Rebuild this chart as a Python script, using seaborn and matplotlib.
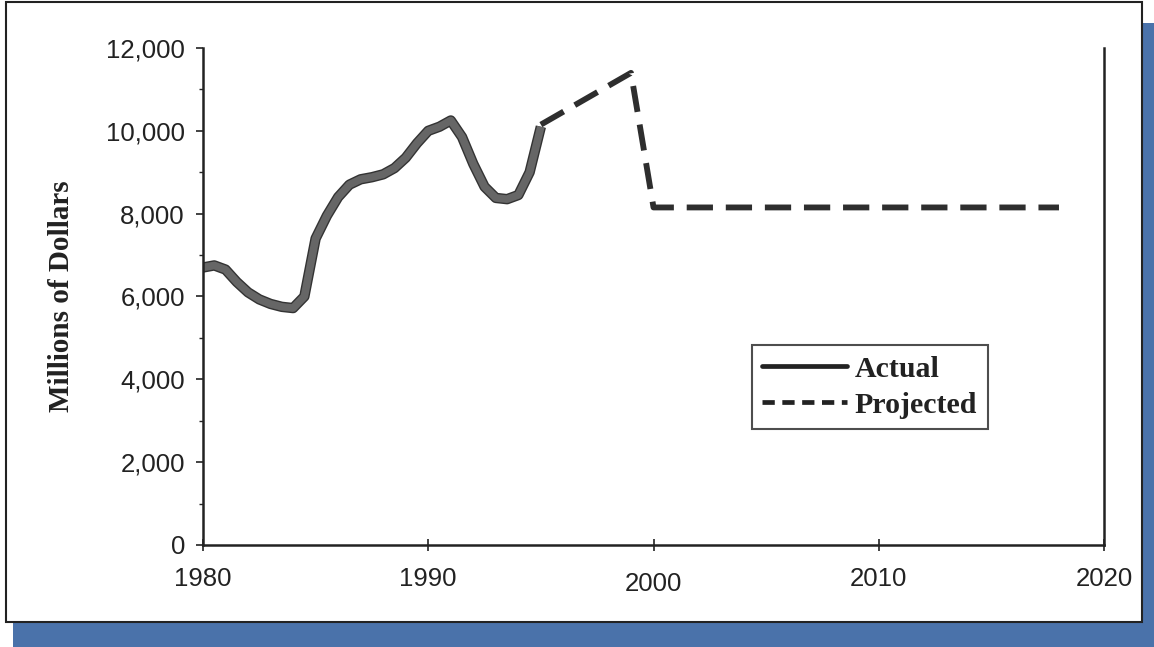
import numpy as np
import pandas as pd
import seaborn as sns
import matplotlib.pyplot as plt
import matplotlib.patheffects as pe
import matplotlib.transforms as mtransforms
from matplotlib.lines import Line2D
from matplotlib.patches import Rectangle

# values (millions of dollars)
actual_years = [1980, 1980.5, 1981, 1981.5, 1982, 1982.5, 1983, 1983.5, 1984, 1984.5,
                1985, 1985.5, 1986, 1986.5, 1987, 1987.5, 1988, 1988.5, 1989, 1989.5,
                1990, 1990.5, 1991, 1991.5, 1992, 1992.5, 1993, 1993.5, 1994, 1994.5, 1995]
actual_values = [6700, 6750, 6650, 6350, 6100, 5930, 5820, 5750, 5720, 6000,
                 7400, 7950, 8400, 8700, 8830, 8880, 8950, 9100, 9350, 9700,
                 10000, 10100, 10250, 9850, 9200, 8650, 8380, 8350, 8450, 9000, 10100]
proj_years = [1995, 1999, 2000, 2018]
proj_values = [10150, 11400, 8150, 8150]

x_ticks = [1980, 1990, 2000, 2010, 2020]
y_ticks = [0, 2000, 4000, 6000, 8000, 10000, 12000]

actual = pd.DataFrame({'year': actual_years, 'value': actual_values})
proj = pd.DataFrame({'year': proj_years, 'value': proj_values})

sns.set_style('ticks')
plt.rcParams['font.family'] = ['Liberation Sans', 'DejaVu Sans']

fig = plt.figure(figsize=(11.54, 6.47), dpi=100)
fig.patch.set_facecolor('white')

# blue shadow + white framed panel (behind the axes)
fig.patches.append(Rectangle((0.0113, 0.0), 0.9887, 0.9645, transform=fig.transFigure,
                             facecolor='#4a72aa', edgecolor='none', zorder=-3))
fig.patches.append(Rectangle((0.0052, 0.0386), 0.9844, 0.9583, transform=fig.transFigure,
                             facecolor='white', edgecolor='#222222', linewidth=1.5, zorder=-2))

ax = fig.add_axes([0.1759, 0.1577, 0.7808, 0.7681])
ax.set_facecolor('none')

sns.lineplot(data=actual, x='year', y='value', ax=ax, color='#666666', linewidth=5.5,
             solid_capstyle='butt', solid_joinstyle='round',
             path_effects=[pe.Stroke(linewidth=7.5, foreground='#333333'), pe.Normal()])
sns.lineplot(data=proj, x='year', y='value', ax=ax, color='#2e2e2e', linewidth=4.2,
             dashes=(4.5, 2.2))

ax.set_xlim(1980, 2020)
ax.set_ylim(0, 12000)
ax.set_xticks(x_ticks)
ax.set_yticks(y_ticks)
ax.set_yticks(np.arange(1000, 12000, 2000), minor=True)
ax.set_yticklabels([f'{v:,}' for v in y_ticks])
ax.tick_params(axis='both', labelsize=18.5, colors='#222222', width=1.2)
ax.tick_params(axis='x', length=8, direction='inout', pad=12)
ax.tick_params(axis='y', which='major', length=5, pad=8)
ax.tick_params(axis='y', which='minor', length=3, width=1)

# the 2000 label sits a little lower in the scan
for lbl in ax.get_xticklabels():
    if lbl.get_text() == '2000':
        lbl.set_transform(lbl.get_transform() +
                          mtransforms.ScaledTranslation(0, -5 / 100, fig.dpi_scale_trans))

ax.set_xlabel('')
ax.set_ylabel('Millions of Dollars', fontsize=21, fontweight='bold',
              family='Liberation Serif', color='#222222', labelpad=22)

for side in ['left', 'bottom', 'right']:
    ax.spines[side].set_color('#222222')
    ax.spines[side].set_linewidth(1.8)
ax.spines['top'].set_visible(False)

handles = [Line2D([], [], color='#222222', linewidth=3.4),
           Line2D([], [], color='#222222', linewidth=3.4, dashes=(2.6, 1.6))]
leg = ax.legend(handles, ['Actual', 'Projected'], loc='upper left',
                bbox_to_anchor=(0.609, 0.402), frameon=True, fancybox=False,
                handlelength=2.85, handletextpad=0.25, borderpad=0.35, labelspacing=0.3,
                borderaxespad=0,
                prop={'family': 'Liberation Serif', 'weight': 'bold', 'size': 21.5})
leg.get_frame().set_edgecolor('#222222')
leg.get_frame().set_linewidth(1.5)
for t in leg.get_texts():
    t.set_color('#222222')

fig.savefig('out.png', dpi=100)
